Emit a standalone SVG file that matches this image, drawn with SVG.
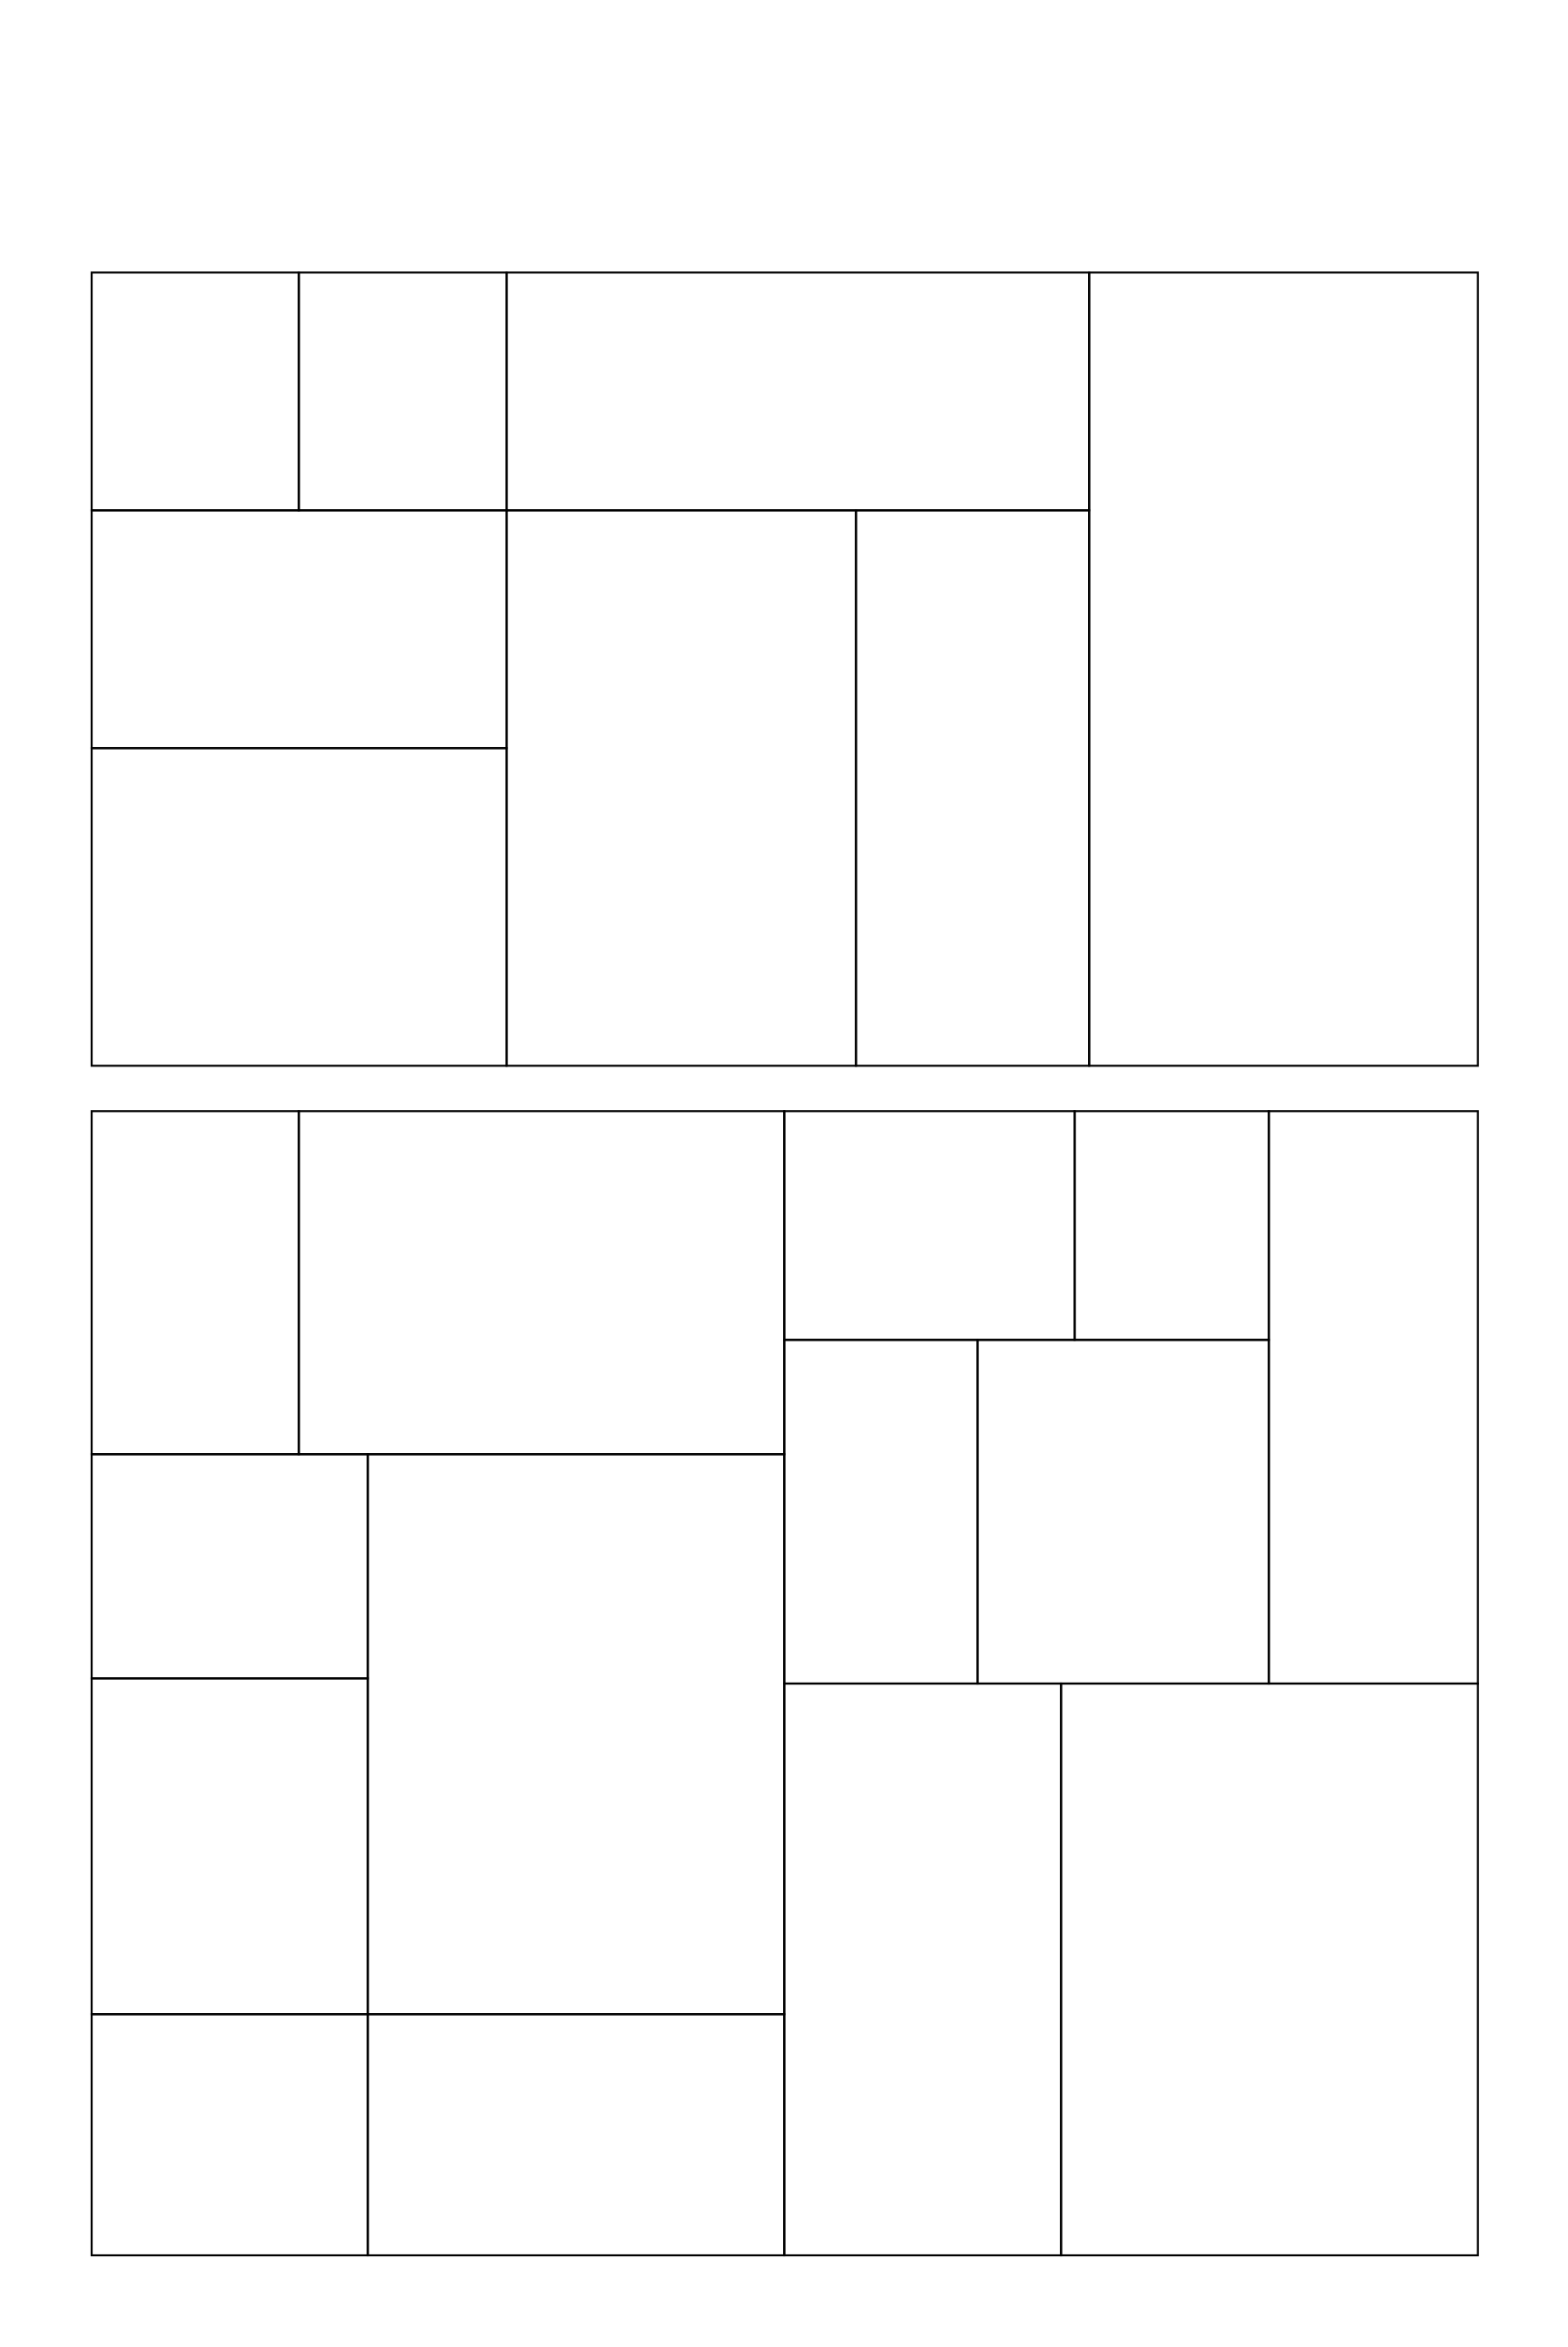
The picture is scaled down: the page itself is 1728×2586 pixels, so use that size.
<svg xmlns="http://www.w3.org/2000/svg" width="1728" height="2586" viewBox="0 0 1728 2586">
<style>
.c{fill:none;stroke:#000;stroke-width:2.2}
</style>
<rect x="0" y="0" width="1728" height="2586" fill="#fff"/>
<g id="panel-top">
<g id="t1"><rect class="c" x="101" y="300.3" width="228.3" height="262"/></g>
<g id="t2"><rect class="c" x="329.3" y="300.3" width="229" height="262"/></g>
<g id="t3"><rect class="c" x="558.3" y="300.3" width="642" height="262"/></g>
<g id="t4"><rect class="c" x="1200.3" y="300.3" width="428.4" height="874"/></g>
<g id="t5"><rect class="c" x="101" y="562.3" width="457.3" height="262"/></g>
<g id="t6"><rect class="c" x="101" y="824.3" width="457.3" height="350"/></g>
<g id="t7"><rect class="c" x="558.3" y="562.3" width="385" height="612"/></g>
<g id="t8"><rect class="c" x="943.3" y="562.3" width="257" height="612"/></g>
</g>
<g id="panel-bottom">
<g id="b1"><rect class="c" x="101" y="1224.3" width="228.3" height="378"/></g>
<g id="b2"><rect class="c" x="329.3" y="1224.3" width="535" height="378"/></g>
<g id="b3"><rect class="c" x="101" y="1602.3" width="304.3" height="247"/></g>
<g id="b4"><rect class="c" x="405.3" y="1602.3" width="459" height="617"/></g>
<g id="b5"><rect class="c" x="101" y="1849.3" width="304.3" height="370"/></g>
<g id="b6"><rect class="c" x="101" y="2219.3" width="304.3" height="265.7"/></g>
<g id="b7"><rect class="c" x="405.3" y="2219.3" width="459" height="265.7"/></g>
<g id="b8"><rect class="c" x="864.3" y="1224.3" width="320" height="252"/></g>
<g id="b9"><rect class="c" x="1184.3" y="1224.3" width="214" height="252"/></g>
<g id="b10"><rect class="c" x="1398.3" y="1224.3" width="230.4" height="630.7"/></g>
<g id="b11"><rect class="c" x="864.3" y="1476.3" width="213" height="378.7"/></g>
<g id="b12"><rect class="c" x="1077.3" y="1476.3" width="321" height="378.7"/></g>
<g id="b13"><rect class="c" x="864.3" y="1855" width="305" height="630"/></g>
<g id="b14"><rect class="c" x="1169.3" y="1855" width="459.4" height="630"/></g>
</g>
<g id="connectors"></g>
</svg>
